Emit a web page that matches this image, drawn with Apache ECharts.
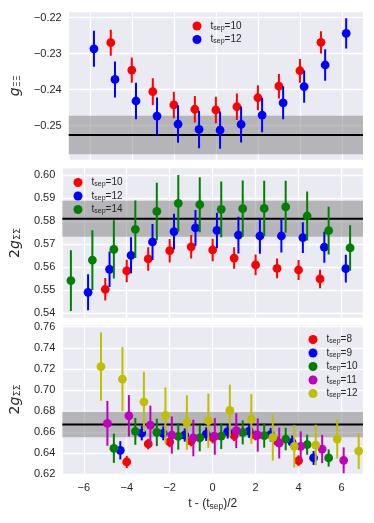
<!DOCTYPE html>
<html>
<head>
<meta charset="utf-8">
<script src="https://cdn.jsdelivr.net/npm/echarts@6/dist/echarts.min.js"></script>
<style>
html,body{margin:0;padding:0;background:#fff;}
#chart{width:374px;height:523px;}
</style>
</head>
<body>
<div id="chart"></div>
<script>
// ---------- data ----------
// Panel 1: g_XiXi
var top_x10 = [-5,-4,-3,-2,-1,0,1,2,3,4,5];
var top_y10 = [-0.2270,-0.2346,-0.2406,-0.2443,-0.2455,-0.2457,-0.2448,-0.2423,-0.2391,-0.2348,-0.2269];
var top_e10 = [0.0036,0.0035,0.0037,0.0037,0.0037,0.0037,0.0037,0.0035,0.0034,0.0033,0.0031];
var top_x12 = [-5.8,-4.8,-3.8,-2.8,-1.8,-0.8,0.2,1.2,2.2,3.2,4.2,5.2,6.2];
var top_y12 = [-0.2287,-0.2372,-0.2432,-0.2474,-0.2496,-0.2511,-0.2513,-0.2497,-0.2471,-0.2437,-0.2392,-0.2332,-0.2244];
var top_e12 = [0.0050,0.0050,0.0051,0.0052,0.0052,0.0052,0.0052,0.0050,0.0048,0.0046,0.0045,0.0044,0.0042];
var top_fit = -0.25265, top_fit_err = 0.00535;

// Panel 2: 2 g_SigmaSigma
var mid_x10 = [-5,-4,-3,-2,-1,0,1,2,3,4,5];
var mid_y10 = [0.5503,0.5583,0.5635,0.5671,0.5688,0.5674,0.5639,0.5609,0.5594,0.5587,0.5548];
var mid_e10 = [0.0049,0.0049,0.0051,0.0051,0.0051,0.0049,0.0047,0.0045,0.0043,0.0043,0.0040];
var mid_x12 = [-5.8,-4.8,-3.8,-2.8,-1.8,-0.8,0.2,1.2,2.2,3.2,4.2,5.2,6.2];
var mid_y12 = [0.5490,0.5590,0.5651,0.5709,0.5754,0.5770,0.5759,0.5739,0.5735,0.5735,0.5728,0.5686,0.5593];
var mid_e12 = [0.0078,0.0077,0.0078,0.0078,0.0078,0.0078,0.0077,0.0080,0.0077,0.0072,0.0067,0.0067,0.0060];
var mid_x14 = [-6.6,-5.6,-4.6,-3.6,-2.6,-1.6,-0.6,0.4,1.4,2.4,3.4,4.4,5.4,6.4];
var mid_y14 = [0.5541,0.5630,0.5677,0.5764,0.5842,0.5877,0.5871,0.5851,0.5854,0.5855,0.5862,0.5822,0.5758,0.5683];
var mid_e14 = [0.0132,0.0130,0.0127,0.0125,0.0125,0.0123,0.0120,0.0121,0.0122,0.0120,0.0113,0.0107,0.0104,0.0099];
var mid_fit = 0.5810, mid_fit_err = 0.0078;

// Panel 3: 2 g_SigmaSigma (second set)
var bot_x8 = [-4,-3,-2,-1,0,1,2,3,4];
var bot_y8 = [0.6314,0.6485,0.6504,0.6513,0.6545,0.6564,0.6567,0.6510,0.6327];
var bot_e8 = [0.0058,0.0051,0.0051,0.0051,0.0054,0.0051,0.0047,0.0047,0.0051];
var bot_x9 = [-4.3,-3.3,-2.3,-1.3,-0.3,0.7,1.7,2.7,3.7,4.7];
var bot_y9 = [0.6425,0.6589,0.6586,0.6570,0.6579,0.6602,0.6608,0.6573,0.6500,0.6352];
var bot_e9 = [0.0087,0.0070,0.0066,0.0063,0.0065,0.0065,0.0065,0.0065,0.0066,0.0066];
var bot_x10 = [-4.6,-3.6,-2.6,-1.6,-0.6,0.4,1.4,2.4,3.4,4.4,5.4];
var bot_y10 = [0.6444,0.6605,0.6595,0.6557,0.6542,0.6560,0.6595,0.6564,0.6532,0.6478,0.6352];
var bot_e10 = [0.0139,0.0128,0.0130,0.0126,0.0126,0.0123,0.0114,0.0114,0.0107,0.0095,0.0082];
var bot_x11 = [-4.9,-3.9,-2.9,-1.9,-0.9,0.1,1.1,2.1,3.1,4.1,5.1,6.1];
var bot_y11 = [0.6681,0.6753,0.6665,0.6570,0.6542,0.6557,0.6611,0.6570,0.6494,0.6463,0.6437,0.6330];
var bot_e11 = [0.0213,0.0197,0.0185,0.0177,0.0174,0.0174,0.0166,0.0158,0.0147,0.0142,0.0134,0.0123];
var bot_x12 = [-5.2,-4.2,-3.2,-2.2,-1.2,-0.2,0.8,1.8,2.8,3.8,4.8,5.8,6.8];
var bot_y12 = [0.7221,0.7101,0.6886,0.6756,0.6690,0.6706,0.6804,0.6722,0.6548,0.6463,0.6475,0.6532,0.6418];
var bot_e12 = [0.0325,0.0305,0.0286,0.0267,0.0259,0.0258,0.0245,0.0237,0.0221,0.0202,0.0193,0.0186,0.0171];
var bot_fit = 0.6670, bot_fit_err = 0.0121;

var xTicks = [-6,-4,-2,0,2,4,6];

// ---------- chart ----------
var C = {r:'#ff0000', b:'#0000ff', g:'#008000', m:'#bf00bf', y:'#bfbf00'};
var TXT = '#262626';
var FONT = 'Liberation Sans';

function pts(xs, ys, es){ return xs.map(function(x,i){ return [x, ys[i], es[i]]; }); }

function errSeries(id, idx, color, xs, ys, es){
  return {
    type:'custom', name:id, xAxisIndex:idx, yAxisIndex:idx, clip:true, z:5,
    itemStyle:{color:color},
    encode:{x:0, y:1},
    data: pts(xs, ys, es),
    renderItem:function(params, api){
      var x = api.value(0), y = api.value(1), e = api.value(2);
      var p = api.coord([x, y]);
      var hi = api.coord([x, y + e]);
      var lo = api.coord([x, y - e]);
      return {type:'group', children:[
        {type:'line', shape:{x1:p[0], y1:hi[1], x2:p[0], y2:lo[1]}, style:{stroke:color, lineWidth:2}},
        {type:'circle', shape:{cx:p[0], cy:p[1], r:4.4}, style:{fill:color}}
      ]};
    }
  };
}

// fitted value: grey band (fit +/- err) and black line across the panel
function bandSeries(idx, fit, err){
  return {
    type:'custom', xAxisIndex:idx, yAxisIndex:idx, z:3, silent:true, clip:true,
    encode:{x:0, y:1},
    data:[[0, fit, err]],
    renderItem:function(params, api){
      var cs = params.coordSys;
      var f = api.value(1), e = api.value(2);
      var yT = api.coord([0, f + e])[1];
      var yB = api.coord([0, f - e])[1];
      var yM = api.coord([0, f])[1];
      return {type:'group', children:[
        {type:'rect', shape:{x:cs.x, y:yT, width:cs.width, height:yB - yT}, style:{fill:'rgba(128,128,128,0.5)'}},
        {type:'line', shape:{x1:cs.x, y1:yM, x2:cs.x + cs.width, y2:yM}, style:{stroke:'#000000', lineWidth:2}}
      ]};
    }
  };
}

var gridL = 61, gridW = 302;
var grids = [
  {left:gridL, width:gridW, top:11, height:149.5},
  {left:gridL, width:gridW, top:167.5, height:151},
  {left:gridL, width:gridW, top:324, height:151}
];
grids.forEach(function(g){ g.show = true; g.backgroundColor = '#EAEAF2'; g.borderWidth = 0; });

function xAx(idx, showLabels){
  var a = {
    type:'value', gridIndex:idx, min:-7, max:7, splitNumber:7,
    axisLine:{show:false}, axisTick:{show:false},
    splitLine:{show:true, lineStyle:{color:'#ffffff', width:1.3}},
    axisLabel:{show:showLabels, showMinLabel:false, showMaxLabel:false, color:TXT, fontSize:11, fontFamily:FONT, margin:7,
      formatter:function(v){ return xTicks.indexOf(v) >= 0 ? String(v).replace('-', '\u2212') : ''; }}
  };
  if (showLabels) {
    a.name = '{a|t - (t}{s|sep}{a|)/2}';
    a.nameLocation = 'middle';
    a.nameGap = 22;
    a.nameTextStyle = {color:TXT, fontFamily:FONT, rich:{
      a:{fontSize:12, color:TXT, fontFamily:FONT, lineHeight:14},
      s:{fontSize:8.5, color:TXT, fontFamily:FONT, lineHeight:8, verticalAlign:'bottom'}
    }};
  }
  return a;
}

function yAx(idx, min, max, split, name, gap){
  return {
    type:'value', gridIndex:idx, min:min, max:max, splitNumber:split,
    axisLine:{show:false}, axisTick:{show:false},
    splitLine:{show:true, lineStyle:{color:'#ffffff', width:1.3}},
    axisLabel:{showMinLabel:false, showMaxLabel:false, color:TXT, fontSize:11, fontFamily:FONT, margin:7,
      formatter:function(v){ return (Math.round(v*100)/100).toFixed(2).replace('-', '\u2212'); }},
    name:name, nameLocation:'middle', nameRotate:90, nameGap:gap,
    nameTextStyle:{color:TXT, rich:{
      n:{fontSize:14, color:TXT, fontFamily:'DejaVu Sans', lineHeight:16},
      g:{fontSize:14, color:TXT, fontFamily:'DejaVu Sans', fontStyle:'italic', lineHeight:16},
      s:{fontSize:9.5, color:TXT, fontFamily:'DejaVu Sans', lineHeight:9, verticalAlign:'bottom'}
    }}
  };
}

var legendLabels = {
  t10:'10', t12:'12',
  m10:'10', m12:'12', m14:'14',
  b8:'8', b9:'9', b10:'10', b11:'11', b12:'12'
};
function legend(idx, names, colors, left, top){
  return {
    orient:'vertical', left:left, top:top, itemGap:3, itemWidth:17, itemHeight:9,
    icon:'circle', selectedMode:false,
    data: names.map(function(n,i){ return {name:n, icon:'circle', itemStyle:{color:colors[i]}}; }),
    formatter:function(n){ return '{a|t}{s|sep}{a|=' + legendLabels[n] + '}'; },
    textStyle:{color:TXT, fontFamily:FONT, rich:{
      a:{fontSize:10, color:TXT, fontFamily:FONT, lineHeight:11},
      s:{fontSize:7, color:TXT, fontFamily:FONT, lineHeight:6, verticalAlign:'bottom'}
    }}
  };
}

var option = {
  animation:false,
  backgroundColor:'#ffffff',
  grid: grids,
  xAxis: [xAx(0,false), xAx(1,false), xAx(2,true)],
  yAxis: [
    yAx(0, -0.25973, -0.2182, 4, '{g|g}{s|\u039E\u039E}', 33),
    yAx(1, 0.5376, 0.6033, 6, '{n|2}{g|g}{s|\u03A3\u03A3}', 30),
    yAx(2, 0.6190, 0.7626, 7, '{n|2}{g|g}{s|\u03A3\u03A3}', 30)
  ],
  legend: [
    legend(0, ['t10','t12'], [C.r, C.b], 187.5, 16),
    legend(1, ['m10','m12','m14'], [C.r, C.b, C.g], 68.5, 172.5),
    legend(2, ['b8','b9','b10','b11','b12'], [C.r, C.b, C.g, C.m, C.y], 303.5, 329.5)
  ],
  series: [
    bandSeries(0, top_fit, top_fit_err),
    errSeries('t10', 0, C.r, top_x10, top_y10, top_e10),
    errSeries('t12', 0, C.b, top_x12, top_y12, top_e12),
    bandSeries(1, mid_fit, mid_fit_err),
    errSeries('m10', 1, C.r, mid_x10, mid_y10, mid_e10),
    errSeries('m12', 1, C.b, mid_x12, mid_y12, mid_e12),
    errSeries('m14', 1, C.g, mid_x14, mid_y14, mid_e14),
    bandSeries(2, bot_fit, bot_fit_err),
    errSeries('b8', 2, C.r, bot_x8, bot_y8, bot_e8),
    errSeries('b9', 2, C.b, bot_x9, bot_y9, bot_e9),
    errSeries('b10', 2, C.g, bot_x10, bot_y10, bot_e10),
    errSeries('b11', 2, C.m, bot_x11, bot_y11, bot_e11),
    errSeries('b12', 2, C.y, bot_x12, bot_y12, bot_e12)
  ]
};

var chart = echarts.init(document.getElementById('chart'), null, {renderer:'canvas'});
chart.setOption(option);
</script>
</body>
</html>
